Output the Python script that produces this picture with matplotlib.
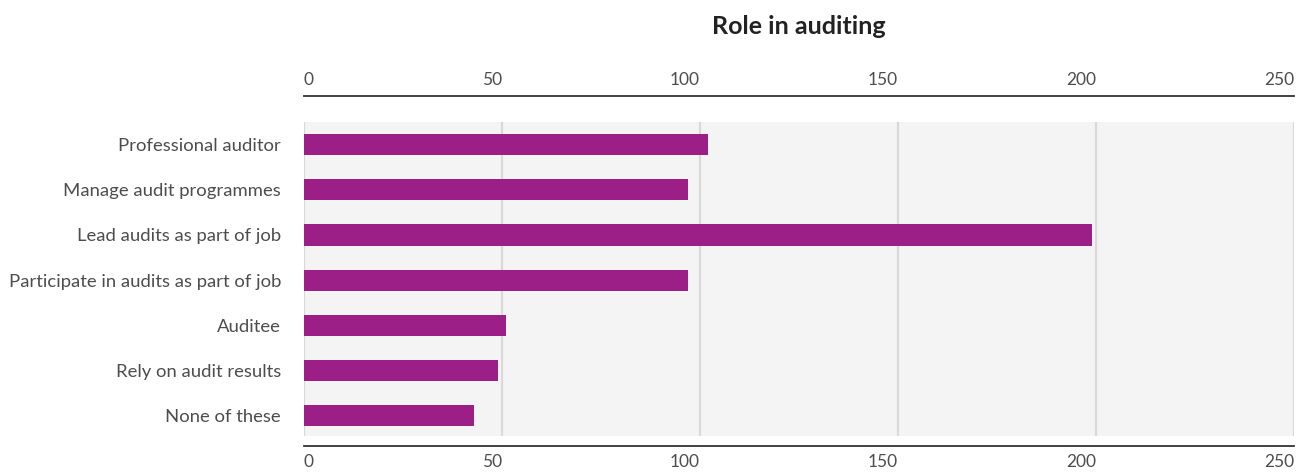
import matplotlib
matplotlib.use("Agg")
import matplotlib.pyplot as plt

categories = ["Professional auditor", "Manage audit programmes", "Lead audits as part of job",
              "Participate in audits as part of job", "Auditee", "Rely on audit results", "None of these"]
values = [102, 97, 199, 97, 51, 49, 43]
xticks = [0, 50, 100, 150, 200, 250]
title = "Role in auditing"

plt.rcParams['font.family'] = ['Lato', 'DejaVu Sans']

W, H = 1306, 472
fig = plt.figure(figsize=(W / 100, H / 100), dpi=100)
left, right, top, bottom = 304, 1294, 122, 436
ax = fig.add_axes([left / W, (H - bottom) / H, (right - left) / W, (bottom - top) / H])
ax.set_facecolor("#f4f4f4")

ypos = list(range(len(categories)))
ax.barh(ypos, values, height=0.47, color="#9c1e87", zorder=3)
ax.set_ylim(len(categories) - 0.55, -0.5)
ax.set_xlim(0, 250)

ax.grid(axis='x', color="#d9d9d9", linewidth=1.6, zorder=1)
ax.set_axisbelow(True)

for s in ['left', 'right']:
    ax.spines[s].set_visible(False)
ax.spines['top'].set_position(('outward', 18.7))
ax.spines['bottom'].set_position(('outward', 7.2))
for s in ['top', 'bottom']:
    ax.spines[s].set_color("#333333")
    ax.spines[s].set_linewidth(1.3)

ax.set_yticks(ypos)
ax.set_yticklabels(categories, fontsize=13.3, color="#4d4d4d")
ax.tick_params(axis='y', length=0, pad=16.5)

ax.set_xticks(xticks)
ax.set_xticklabels([str(t) for t in xticks])
ax.tick_params(axis='x', length=0, labelsize=12.5, labelcolor="#4d4d4d",
               top=True, labeltop=True, bottom=True, labelbottom=True, pad=6)

ticks = ax.xaxis.get_major_ticks()
for i, tick in enumerate(ticks):
    for lab in (tick.label1, tick.label2):
        lab.set_horizontalalignment('left' if i == 0 else 'right')

fig.text((left + right) / 2 / W, 1 - 26 / H, title, ha='center', va='center',
         fontsize=18, fontweight='bold', color="#222222")

fig.savefig("out.png", dpi=100)
